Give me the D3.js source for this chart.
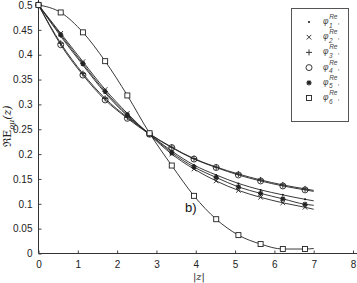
<!DOCTYPE html>
<html>
<head>
<meta charset="utf-8">
<script src="https://cdn.jsdelivr.net/npm/d3@7"></script>
<style>
  body { margin: 0; background: #fff; }
  svg { display: block; }
  .tick text { font-family: "Liberation Sans", Arial, sans-serif; font-size: 10px; fill: #222; }
</style>
</head>
<body>
<div class="chart"></div>
<script>
// |z| where the markers sit, and the end of every curve
var zMarks = [0, 0.565, 1.13, 1.695, 2.26, 2.825, 3.39, 3.955, 4.52, 5.085, 5.65, 6.215, 6.78];
var zEnd = 7;

var phi1 = [0.5, 0.437, 0.379, 0.323, 0.277, 0.240, 0.206, 0.178, 0.158, 0.141, 0.128, 0.118, 0.109];
var phi2 = [0.5, 0.443, 0.386, 0.330, 0.282, 0.239, 0.200, 0.170, 0.146, 0.127, 0.113, 0.102, 0.093];
var phi3 = [0.5, 0.423, 0.362, 0.312, 0.274, 0.241, 0.214, 0.191, 0.174, 0.160, 0.148, 0.138, 0.130];
var phi4 = [0.5, 0.420, 0.359, 0.309, 0.272, 0.240, 0.213, 0.190, 0.173, 0.158, 0.146, 0.136, 0.128];
var phi5 = [0.5, 0.440, 0.382, 0.326, 0.279, 0.240, 0.203, 0.174, 0.153, 0.134, 0.121, 0.110, 0.099];
var phi6 = [0.5, 0.485, 0.445, 0.387, 0.318, 0.242, 0.177, 0.116, 0.069, 0.037, 0.019, 0.009, 0.009];
var endValues = [0.106, 0.089, 0.127, 0.125, 0.097, 0.010];

var seriesNames = ["1", "2", "3", "4", "5", "6"];
var symbols = ["dot", "cross", "plus", "circle", "star", "square"];

var xTicks = [0, 1, 2, 3, 4, 5, 6, 7, 8];
var yTicks = [0, 0.05, 0.1, 0.15, 0.2, 0.25, 0.3, 0.35, 0.4, 0.45, 0.5];

var width = 357, height = 283;
var svg = d3.select(".chart").append("svg")
  .attr("width", width)
  .attr("height", height);

var x = d3.scaleLinear().domain([0, 8]).range([38.5, 353]);
var y = d3.scaleLinear().domain([0, 0.5]).range([253.5, 5]);

// axes, ticks pointing inward
var xAxis = svg.append("g")
  .attr("transform", "translate(0," + y(0) + ")")
  .call(d3.axisBottom(x).tickValues(xTicks).tickFormat(d3.format("d")).tickSize(-3).tickPadding(7));
xAxis.select(".domain").remove();
xAxis.selectAll(".tick line").attr("stroke", "#444");

var yAxis = svg.append("g")
  .attr("transform", "translate(" + x(0) + ",0)")
  .call(d3.axisLeft(y).tickValues(yTicks).tickFormat(function(d) { return d3.format("")(+d.toFixed(2)); }).tickSize(-3).tickPadding(6));
yAxis.select(".domain").remove();
yAxis.selectAll(".tick line").attr("stroke", "#444");

svg.append("line")
  .attr("x1", x(0)).attr("x2", width)
  .attr("y1", y(0)).attr("y2", y(0))
  .attr("stroke", "#333").attr("stroke-width", 1);
svg.append("line")
  .attr("x1", x(0)).attr("x2", x(0))
  .attr("y1", 0).attr("y2", y(0))
  .attr("stroke", "#333").attr("stroke-width", 1);

var allSeries = [phi1, phi2, phi3, phi4, phi5, phi6];

var line = d3.line()
  .x(function(d) { return x(d[0]); })
  .y(function(d) { return y(d[1]); })
  .curve(d3.curveMonotoneX);

allSeries.forEach(function(vals, i) {
  var pts = zMarks.map(function(z, k) { return [z, vals[k]]; });
  pts.push([zEnd, endValues[i]]);
  svg.append("path")
    .datum(pts)
    .attr("fill", "none")
    .attr("stroke", "#222")
    .attr("stroke-width", 0.9)
    .attr("d", line);
});

function drawSymbol(g, type, cx, cy) {
  var s = g.append("g").attr("transform", "translate(" + cx + "," + cy + ")")
    .attr("stroke", "#222").attr("fill", "none").attr("stroke-width", 0.9);
  if (type == "dot") {
    s.append("circle").attr("r", 1).attr("fill", "#111").attr("stroke", "none");
  } else if (type == "cross") {
    s.append("path").attr("d", "M-2.3,-2.3L2.3,2.3M-2.3,2.3L2.3,-2.3");
  } else if (type == "plus") {
    s.append("path").attr("d", "M-3,0L3,0M0,-3L0,3");
  } else if (type == "circle") {
    s.append("circle").attr("r", 3);
  } else if (type == "star") {
    s.append("path").attr("d", "M-2.6,0L2.6,0M0,-2.6L0,2.6M-1.9,-1.9L1.9,1.9M-1.9,1.9L1.9,-1.9").attr("stroke-width", 1.2);
  } else if (type == "square") {
    s.append("rect").attr("x", -2.5).attr("y", -2.5).attr("width", 5).attr("height", 5).attr("fill", "#fff");
  }
}

var markG = svg.append("g");
allSeries.forEach(function(vals, i) {
  zMarks.forEach(function(z, k) {
    drawSymbol(markG, symbols[i], x(z), y(vals[k]));
  });
});

// legend
var lg = svg.append("g");
lg.append("rect")
  .attr("x", 291.5).attr("y", 8.5)
  .attr("width", 57).attr("height", 113)
  .attr("fill", "#fff").attr("stroke", "#555").attr("stroke-width", 1);
seriesNames.forEach(function(n, i) {
  var ly = 22 + i * 15.2;
  drawSymbol(lg, symbols[i], 309, ly);
  var t = lg.append("text")
    .attr("x", 323).attr("y", ly + 2)
    .attr("font-family", "Liberation Sans, Arial, sans-serif")
    .attr("font-size", 8.5).attr("fill", "#444").attr("font-style", "italic");
  t.append("tspan").text("\u03C6");
  t.append("tspan").attr("dx", 0.5).attr("dy", 3.5).attr("font-size", 6.5).text(n);
  t.append("tspan").attr("dx", -3.5).attr("dy", -8.5).attr("font-size", 6.5).text("Re");
  t.append("tspan").attr("dx", 0.5).attr("dy", 5).attr("font-size", 6.5).text(",");
});

// labels
svg.append("text")
  .attr("x", 199).attr("y", 280)
  .attr("text-anchor", "middle")
  .attr("font-family", "DejaVu Serif, serif").attr("font-size", 10).attr("font-style", "italic")
  .attr("fill", "#222")
  .text("|z|");

var yl = svg.append("text")
  .attr("transform", "translate(11,126) rotate(-90)")
  .attr("text-anchor", "middle")
  .attr("font-family", "DejaVu Serif, serif").attr("font-size", 11).attr("fill", "#222");
yl.append("tspan").text("\u211CE");
yl.append("tspan").attr("dy", 3).attr("font-size", 8).attr("font-style", "italic").text("\u03C1\u03BC");
yl.append("tspan").attr("dy", -3).attr("font-style", "italic").text("(z)");

svg.append("text")
  .attr("x", 185).attr("y", 212)
  .attr("font-family", "Liberation Sans, Arial, sans-serif").attr("font-size", 13)
  .attr("fill", "#111")
  .text("b)");
</script>
</body>
</html>
